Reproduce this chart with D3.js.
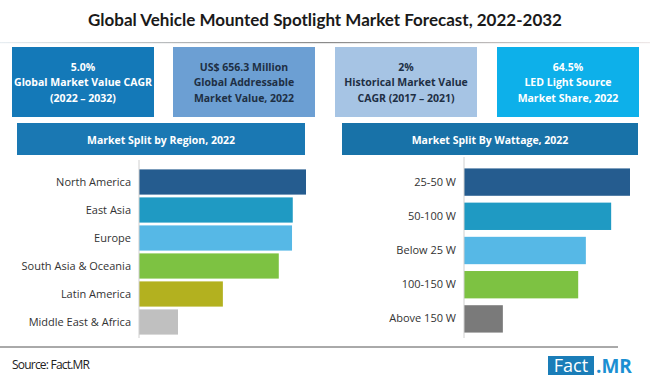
<!DOCTYPE html>
<html><head><meta charset="utf-8">
<script src="https://cdn.jsdelivr.net/npm/d3@7/dist/d3.min.js"></script>
<style>
html,body{margin:0;padding:0;background:#fff;}
svg{display:block;font-family:"Open Sans","Noto Sans",sans-serif;}
</style></head>
<body>
<svg id="c" width="650" height="385"></svg>
<script>
const title = "Global Vehicle Mounted Spotlight Market Forecast, 2022-2032";
const kpiLines = [
  ["5.0%", "Global Market Value CAGR", "(2022 \u2013 2032)"],
  ["US$ 656.3 Million", "Global Addressable", "Market Value, 2022"],
  ["2%", "Historical Market Value", "CAGR (2017 \u2013 2021)"],
  ["64.5%", "LED Light Source", "Market Share, 2022"]
];
const regionCategories = ["North America","East Asia","Europe","South Asia & Oceania","Latin America","Middle East & Africa"];
const regionValues = [22.7, 20.9, 20.8, 19.0, 11.4, 5.3];
const wattageCategories = ["25-50 W","50-100 W","Below 25 W","100-150 W","Above 150 W"];
const wattageValues = [28.2, 25.0, 20.7, 19.4, 6.6];
const sourceText = "Source: Fact.MR";

const regionColors = ["#255c8f","#1f9ac3","#56b8e6","#7dc242","#b3b11f","#c0c0c0"];
const wattageColors = ["#255c8f","#1f9ac3","#56b8e6","#7dc242","#7a7a7a"];
const kpiFill = ["#1479b8","#6c9fd3","#a6c4e4","#0db0ea"];
const kpiText = ["#ffffff","#1e2f44","#1e2f44","#ffffff"];

const svg = d3.select("#c");

// title
svg.append("text").attr("x",325).attr("y",26).attr("text-anchor","middle")
  .attr("font-family","Lato, 'Open Sans', sans-serif").attr("font-weight","bold")
  .attr("font-size",17).attr("fill","#1a1a1a").text(title);

const grad = svg.append("defs").append("linearGradient").attr("id","tl");
grad.append("stop").attr("offset","0%").attr("stop-color","#e8eef2");
grad.append("stop").attr("offset","50%").attr("stop-color","#8a8a8a");
grad.append("stop").attr("offset","100%").attr("stop-color","#eee8e8");
svg.append("rect").attr("x",0).attr("y",42).attr("width",650).attr("height",1.2).attr("fill","url(#tl)");

// KPI boxes
const kpiX = [12,173,335,497];
kpiLines.forEach((lines,i)=>{
  const g = svg.append("g");
  g.append("rect").attr("x",kpiX[i]).attr("y",47).attr("width",142).attr("height",70).attr("fill",kpiFill[i]);
  lines.forEach((l,j)=>{
    g.append("text").attr("x",kpiX[i]+71).attr("y",70.5+j*15.5).attr("text-anchor","middle")
      .attr("font-weight","bold").attr("font-size",10.5).attr("fill",kpiText[i]).text(l);
  });
});

// header bars
const headers = [
  {x:17,w:288,t:"Market Split by Region, 2022",c:"#1a78b3"},
  {x:342,w:296,t:"Market Split By Wattage, 2022",c:"#1872a8"}
];
headers.forEach(h=>{
  svg.append("rect").attr("x",h.x).attr("y",123).attr("width",h.w).attr("height",32).attr("fill",h.c);
  svg.append("text").attr("x",h.x+h.w/2).attr("y",143.5).attr("text-anchor","middle")
    .attr("font-weight","bold").attr("font-size",10.5).attr("fill","#fff").text(h.t);
});

function barChart(cats, vals, colors, x0, x1, y0, y1, pad, xmax, labelFont){
  const x = d3.scaleLinear().domain([0,xmax]).range([x0,x1]);
  const y = d3.scaleBand().domain(cats).range([y0,y1]).paddingInner(pad).paddingOuter(pad/2);
  const g = svg.append("g");
  g.selectAll("rect").data(cats).join("rect")
    .attr("x",x(0)).attr("y",d=>y(d)).attr("height",y.bandwidth())
    .attr("width",(d,i)=>x(vals[i])-x(0)).attr("fill",(d,i)=>colors[i]);
  const ax = g.append("g").attr("transform",`translate(${x0},0)`)
    .call(d3.axisLeft(y).tickSize(0).tickPadding(8));
  ax.select(".domain").attr("stroke","#d0d0d0").attr("d",`M0,${y0-8}V${y1+2}`);
  ax.selectAll("text").attr("font-size",labelFont).attr("fill","#333")
    .attr("font-family","'Open Sans','Noto Sans',sans-serif");
}
barChart(regionCategories, regionValues, regionColors, 139, 306, 168, 336, 0.1, 22.7, 11);
barChart(wattageCategories, wattageValues, wattageColors, 464, 630, 165, 336, 0.2, 28.2, 11);

// footer
svg.append("line").attr("x1",0).attr("x2",618).attr("y1",347).attr("y2",347)
  .attr("stroke","#555").attr("stroke-width",1);
svg.append("text").attr("x",12).attr("y",369).attr("font-size",12).attr("fill","#222")
  .attr("font-family","'Open Sans',sans-serif").attr("textLength",78).text(sourceText);
svg.append("rect").attr("x",548).attr("y",356).attr("width",46).attr("height",19).attr("fill","#1a7db8");
svg.append("text").attr("x",571).attr("y",372).attr("text-anchor","middle").attr("font-size",18)
  .attr("fill","#fff").attr("font-family","'Open Sans',sans-serif").text("Fact");
svg.append("text").attr("x",596).attr("y",372.5).attr("font-size",19).attr("font-weight","bold")
  .attr("fill","#1b8fd2").attr("font-family","'Open Sans',sans-serif").text(".MR");
</script>
</body></html>
